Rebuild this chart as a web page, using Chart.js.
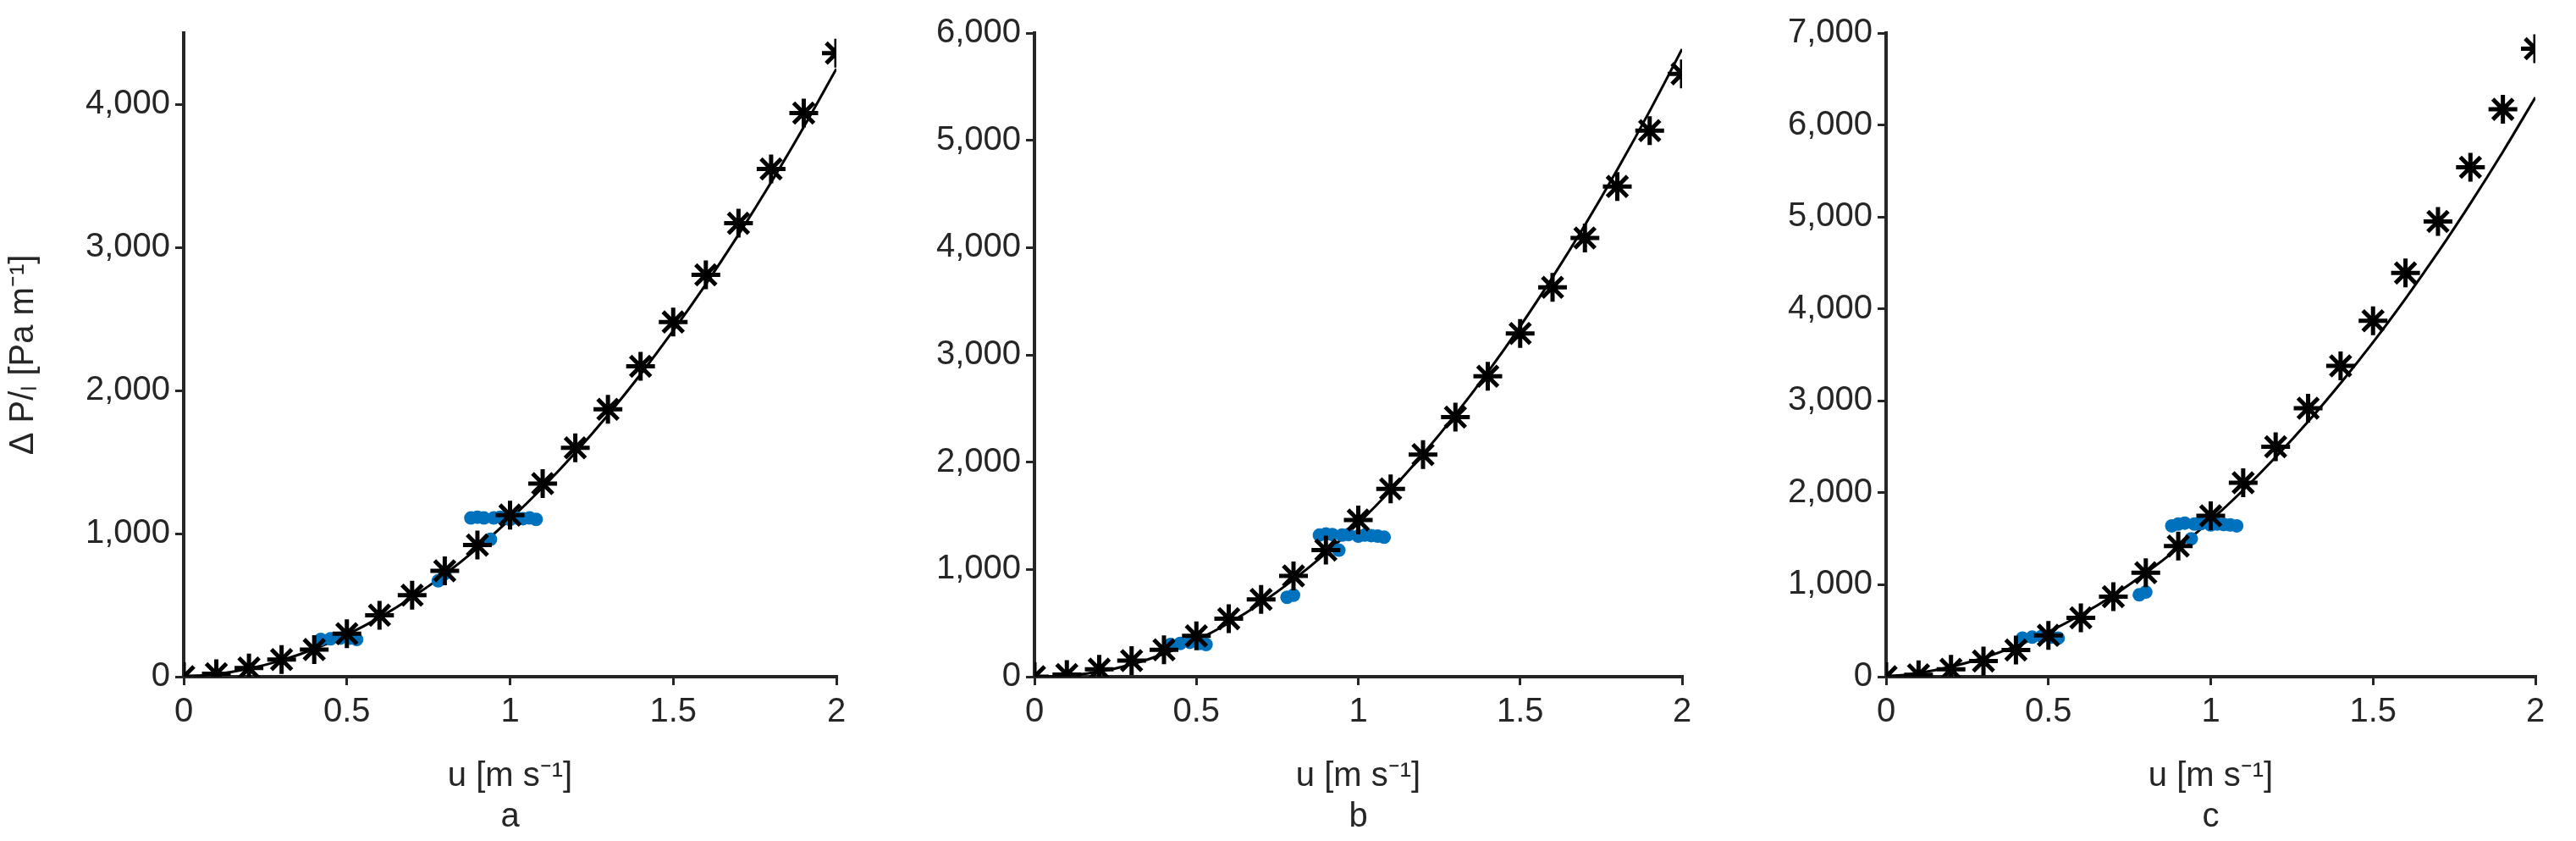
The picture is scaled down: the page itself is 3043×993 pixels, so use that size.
<!DOCTYPE html><html><head><meta charset="utf-8">
<script src="https://cdn.jsdelivr.net/npm/chart.js@4"></script>
<style>body{margin:0;width:3043px;height:993px;background:#fff;position:relative;overflow:hidden}canvas{position:absolute;top:0}</style></head><body>
<canvas id="ca" style="left:0px" width="1010" height="993"></canvas>
<canvas id="cb" style="left:1005px" width="1004" height="993"></canvas>
<canvas id="cc" style="left:2011px" width="1006" height="993"></canvas>
<script>
const u = [0,0.1,0.2,0.3,0.4,0.5,0.6,0.7,0.8,0.9,1.0,1.1,1.2,1.3,1.4,1.5,1.6,1.7,1.8,1.9,2.0];
const starsA = [0,20,60,120,190,300,430,570,740,920,1130,1350,1600,1870,2170,2480,2810,3170,3550,3940,4360];
const lineA  = [0,18,56,115,194,294,414,555,716,898,1100,1323,1566,1830,2114,2419,2744,3090,3456,3843,4250];
const starsB = [0,20,70,150,250,380,540,720,940,1180,1460,1750,2070,2420,2800,3200,3630,4090,4570,5090,5620];
const lineB  = [0,8,47,115,213,341,499,687,905,1152,1430,1737,2075,2442,2839,3266,3723,4210,4727,5273,5850];
const starsC = [0,20,80,170,290,450,640,870,1130,1420,1750,2110,2500,2920,3380,3870,4390,4950,5540,6170,6830];
const lineC  = [0,40,108,205,332,487,672,885,1128,1399,1700,2029,2388,2775,3192,3637,4112,4615,5148,5709,6300];
const blueU  = [0.42,0.45,0.48,0.51,0.53,0.78,0.8,0.88,0.9,0.92,0.94,0.95,0.97,1.0,1.02,1.04,1.06,1.08];
const blueA  = [260,265,270,270,260,670,720,1110,1115,1110,960,1110,1115,1100,1110,1105,1110,1100];
const blueB  = [300,310,320,310,300,740,760,1320,1330,1325,1180,1320,1325,1310,1320,1315,1310,1300];
const blueC  = [420,430,440,430,420,890,920,1640,1660,1670,1500,1660,1665,1650,1660,1655,1650,1640];
const yMaxes = [4500,6000,7000];
const labels = ['a','b','c'];
const ink='#262626';
function mk(id,stars,line,blue,ymax,lab){
 new Chart(document.getElementById(id),{type:'scatter',
  data:{datasets:[
   {data:u.map((x,i)=>({x,y:line[i]})),showLine:true,borderColor:'#000',borderWidth:3,pointRadius:0,tension:0.4,order:3},
   {data:blueU.map((x,i)=>({x,y:blue[i]})),backgroundColor:'#0072BD',borderWidth:0,pointRadius:8,order:2},
   {data:u.map((x,i)=>({x,y:stars[i]})),pointStyle:'star',pointRadius:17,borderColor:'#000',borderWidth:5,backgroundColor:'#000',order:1}
  ]},
  options:{responsive:false,animation:false,layout:{padding:{top:39,right:20}},
   plugins:{legend:{display:false},tooltip:{enabled:false}},
   scales:{
    x:{min:0,max:2,afterFit:s=>{s.height=194},afterBuildTicks:s=>{s.ticks=[0,0.5,1,1.5,2].map(v=>({value:v}))},
     border:{color:ink,width:4},grid:{display:true,drawOnChartArea:false,tickLength:10,color:ink,lineWidth:3},
     ticks:{color:ink,font:{family:'Liberation Sans',size:40},padding:8,callback:v=>String(v)},
     title:{display:true,text:['u [m s⁻¹]',lab],color:ink,font:{family:'Liberation Sans',size:40},padding:{top:12}}},
    y:{min:0,max:ymax,afterFit:s=>{s.width=217},afterBuildTicks:s=>{const t=[];for(let v=0;v<=ymax;v+=1000)t.push({value:v});s.ticks=t},
     border:{color:ink,width:4},grid:{display:true,drawOnChartArea:false,tickLength:10,color:ink,lineWidth:3},
     ticks:{color:ink,font:{family:'Liberation Sans',size:40},padding:6},
     title:{display:id==='ca',text:'Δ P/ₗ [Pa m⁻¹]',color:ink,font:{family:'Liberation Sans',size:40},padding:{bottom:4}}}
   }}});
}
mk('ca',starsA,lineA,blueA,yMaxes[0],labels[0]);
mk('cb',starsB,lineB,blueB,yMaxes[1],labels[1]);
mk('cc',starsC,lineC,blueC,yMaxes[2],labels[2]);
</script></body></html>
